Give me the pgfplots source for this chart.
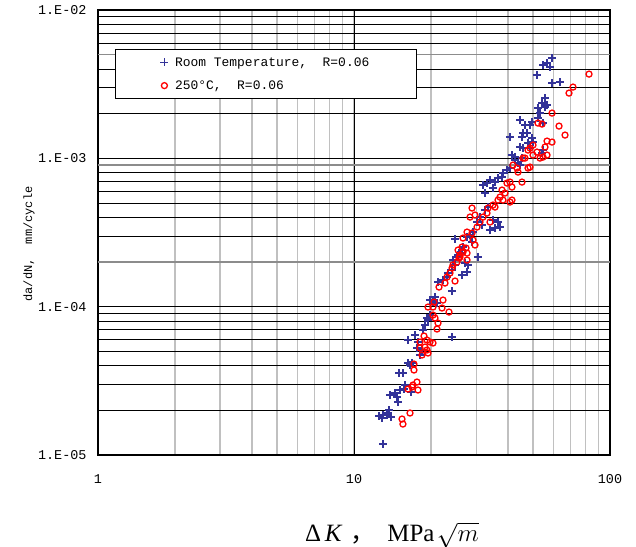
\documentclass[border=0pt]{standalone}
\usepackage{pgfplots}
\pgfplotsset{compat=1.18}
\usepackage{fontspec}
\setmainfont{Liberation Serif}
\newfontfamily\monof{Liberation Mono}
\newfontfamily\cjk{Noto Sans CJK SC}
\definecolor{rtblue}{RGB}{51,51,153}
\definecolor{gridgray}{RGB}{192,192,192}
\begin{document}
\begin{tikzpicture}
\begin{axis}[
  at={(0,0)}, anchor=south west,
  scale only axis, width=512bp, height=445bp,
  xmode=log, ymode=log,
  xmin=1, xmax=100, ymin=1e-5, ymax=1e-2,
  xtick={1,10,100}, xticklabels={1,10,100},
  ytick={1e-5,1e-4,1e-3,1e-2},
  yticklabels={1.E-05,1.E-04,1.E-03,1.E-02},
  major tick length=0pt, minor tick length=0pt,
  xmajorgrids, xminorgrids, ymajorgrids, yminorgrids,
  major x grid style={black, line width=0.8bp},
  minor x grid style={gridgray, line width=1.3bp},
  major y grid style={black, line width=0.8bp},
  minor y grid style={black, line width=0.8bp},
  extra y ticks={5e-3,9e-4,2e-4},
  extra y tick labels={},
  extra y tick style={grid=major, major y grid style={black!45, line width=1.5bp}},
  axis line style={line width=1.6bp},
  tick label style={font=\monof\fontsize{13.5}{15}\selectfont},
  xticklabel style={yshift=-16bp},
  yticklabel style={xshift=-8bp},
  legend style={at={(0.0332,0.9124)}, anchor=north west, draw=black, line width=0.8bp,
    font=\monof\fontsize{13}{15}\selectfont, inner xsep=45bp, inner ysep=6bp,
    row sep=9bp},
  legend cell align=left,
  legend image code/.code={\draw[#1] plot coordinates {(0bp,0bp)}; \path (8bp,0bp);},
]
\addplot[only marks, mark=+, mark size=4bp, color=rtblue, line width=1.3bp] coordinates {
(12.98,1.186e-5) (12.53,1.831e-5) (12.87,1.775e-5) (12.98,1.860e-5) (13.70,2.010e-5)
(13.95,1.803e-5) (13.46,1.860e-5) (13.58,1.919e-5) (13.82,2.537e-5) (14.46,2.618e-5)
(14.85,2.276e-5) (14.72,2.460e-5) (15.12,2.742e-5) (15.82,2.963e-5) (15.67,2.785e-5)
(14.99,3.570e-5) (15.53,3.570e-5) (16.25,4.169e-5) (16.85,4.169e-5) (16.55,4.042e-5)
(16.25,5.958e-5) (18.10,4.720e-5) (18.43,5.101e-5) (16.70,2.658e-5) (17.62,5.262e-5)
(17.78,5.776e-5) (17.31,6.439e-5) (18.60,6.958e-5) (18.94,7.519e-5) (19.46,8.126e-5)
(19.81,8.781e-5) (19.28,8.383e-5) (19.81,1.108e-4) (20.35,1.074e-4) (20.72,1.161e-4)
(21.10,1.058e-4) (24.15,6.242e-5) (21.29,1.466e-4) (22.27,1.512e-4) (23.08,1.584e-4)
(23.29,1.686e-4) (24.15,1.766e-4) (24.81,1.909e-4) (24.36,2.062e-4) (25.26,2.160e-4)
(25.95,2.299e-4) (26.42,2.408e-4) (24.15,1.274e-4) (26.42,1.634e-4) (27.64,1.712e-4)
(27.89,1.909e-4) (27.15,1.968e-4) (30.51,2.160e-4) (24.81,2.857e-4) (25.49,2.228e-4)
(31.91,6.604e-4) (33.08,6.812e-4) (32.49,5.833e-4) (33.98,7.137e-4) (34.91,6.304e-4)
(35.55,6.918e-4) (36.52,7.363e-4) (37.86,7.477e-4) (38.20,7.955e-4) (39.59,8.335e-4)
(40.68,8.598e-4) (41.41,1.052e-3) (42.55,9.735e-4) (43.71,9.292e-4) (44.51,9.008e-4)
(45.31,1.004e-3) (33.38,4.694e-4) (32.49,4.480e-4) (31.06,4.019e-4) (30.24,3.719e-4)
(31.63,3.550e-4) (34.91,3.836e-4) (36.52,3.719e-4) (37.18,3.442e-4) (35.55,3.389e-4)
(33.98,3.285e-4) (29.17,3.184e-4) (28.39,3.040e-4) (27.64,2.947e-4) (28.91,2.727e-4)
(26.66,2.523e-4) (59.37,4.741e-3) (54.75,4.253e-3) (58.31,4.123e-3) (56.76,4.387e-3)
(51.86,3.641e-3) (59.37,3.216e-3) (63.79,3.266e-3) (55.74,2.548e-3) (54.26,2.358e-3)
(56.76,2.286e-3) (52.33,2.182e-3) (53.29,2.019e-3) (52.33,1.868e-3) (44.51,1.811e-3)
(49.58,1.756e-3) (48.70,1.676e-3) (46.55,1.676e-3) (45.72,1.480e-3) (40.68,1.391e-3)
(45.31,1.391e-3) (47.40,1.480e-3) (49.58,1.370e-3) (50.03,1.287e-3) (44.51,1.191e-3)
(45.72,1.173e-3) (47.83,1.268e-3) (48.70,1.173e-3) (42.55,1.020e-3) (54.26,1.085e-3)
(54.75,1.137e-3) (54.75,1.729e-3) (55.74,2.216e-3)
};
\addlegendentry{Room Temperature,\ \ R=0.06}
\addplot[only marks, mark=o, mark size=3bp, color=red, line width=1.3bp] coordinates {
(15.40,1.748e-5) (15.53,1.617e-5) (16.55,1.919e-5) (16.25,2.785e-5) (16.85,2.872e-5)
(17.62,3.104e-5) (17.78,2.742e-5) (17.00,2.963e-5) (17.15,4.105e-5) (17.15,3.740e-5)
(18.10,5.262e-5) (18.43,4.720e-5) (19.28,5.101e-5) (19.46,4.869e-5) (18.94,5.344e-5)
(19.81,5.776e-5) (20.35,5.687e-5) (18.10,5.776e-5) (19.28,5.958e-5) (18.77,6.340e-5)
(21.10,7.067e-5) (21.29,7.756e-5) (20.72,8.383e-5) (20.35,8.781e-5) (19.46,9.943e-5)
(20.35,9.943e-5) (22.07,9.790e-5) (23.50,9.199e-5) (22.27,1.108e-4) (20.54,1.074e-4)
(21.48,1.356e-4) (22.67,1.443e-4) (24.81,1.489e-4) (23.08,1.584e-4) (23.71,1.686e-4)
(24.15,1.822e-4) (24.36,1.909e-4) (25.26,1.999e-4) (25.72,2.127e-4) (25.95,2.228e-4)
(26.66,2.334e-4) (27.64,2.298e-4) (28.39,4.019e-4) (28.91,3.135e-4) (27.64,3.184e-4)
(26.66,2.902e-4) (26.42,2.523e-4) (25.49,2.408e-4) (25.95,2.160e-4) (27.39,2.484e-4)
(29.17,2.813e-4) (29.70,2.603e-4) (30.24,3.442e-4) (31.06,3.719e-4) (31.91,4.019e-4)
(33.98,3.719e-4) (33.08,4.276e-4) (33.38,4.622e-4) (34.91,4.842e-4) (35.55,4.694e-4)
(36.52,5.233e-4) (38.20,5.233e-4) (38.89,5.833e-4) (39.59,6.812e-4) (40.68,6.918e-4)
(41.41,6.403e-4) (37.86,6.111e-4) (37.18,5.482e-4) (40.68,5.073e-4) (41.41,5.233e-4)
(45.31,6.918e-4) (41.79,9.008e-4) (43.32,8.598e-4) (43.71,8.080e-4) (47.83,8.598e-4)
(48.70,8.733e-4) (45.72,1.004e-3) (47.83,1.137e-3) (51.86,1.102e-3) (53.29,1.004e-3)
(54.75,1.020e-3) (56.76,1.052e-3) (82.81,3.698e-3) (71.70,3.023e-3) (69.17,2.754e-3)
(59.37,2.019e-3) (52.33,1.729e-3) (54.26,1.702e-3) (63.23,1.650e-3) (66.73,1.435e-3)
(56.76,1.307e-3) (59.37,1.287e-3) (55.74,1.191e-3) (50.03,1.229e-3) (48.70,1.173e-3)
(50.03,1.052e-3) (46.55,1.004e-3) (28.91,4.622e-4) (29.70,4.145e-4) (27.64,2.062e-4)
};
\addlegendentry{250°C,\ \ R=0.06}
\end{axis}
\node[rotate=90, font=\monof\fontsize{12}{14}\selectfont] at (-69bp,211bp) {da/dN,\ \ mm/cycle};
\node[font=\fontsize{25}{28}\selectfont] at (294bp,-80bp) {Δ\hspace{0.15em}\textit{K}\hspace{0.3em}{\cjk ，}\hspace{0.5em}MPa\hspace{0.1em}$\sqrt{m}$};
\pgfresetboundingbox
\path[use as bounding box] (-98bp,-92bp) rectangle (538bp,455bp);
\end{tikzpicture}
\end{document}
